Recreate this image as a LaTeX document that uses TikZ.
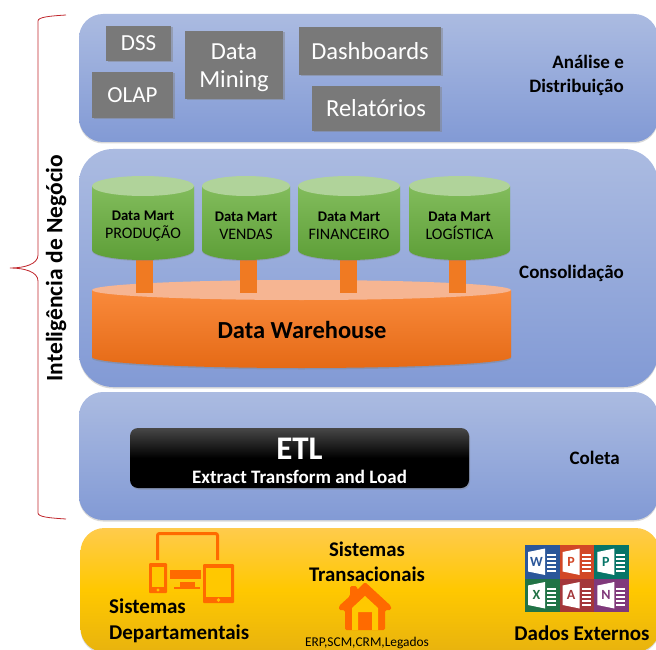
\documentclass[tikz,border=0pt]{standalone}
\usepackage{fontspec}
\setmainfont{Carlito}
\usepackage{tikz}
\usetikzlibrary{shadows, positioning}
\definecolor{bandtop}{HTML}{ABBBE1}
\definecolor{bandbot}{HTML}{829AD5}
\definecolor{boxgray}{HTML}{797979}
\definecolor{martlight}{HTML}{B0D39A}
\definecolor{marttop}{HTML}{82BC5C}
\definecolor{martbot}{HTML}{5E9F38}
\definecolor{dwlight}{HTML}{F6B592}
\definecolor{dwtop}{HTML}{F98A3C}
\definecolor{dwbot}{HTML}{E56A16}
\definecolor{stubcol}{HTML}{F07A22}
\definecolor{yelltop}{HTML}{FFCB4C}
\definecolor{yellmid}{HTML}{FFC800}
\definecolor{yellbot}{HTML}{E8B30E}
\definecolor{iconorange}{HTML}{FF6A00}
\definecolor{bracered}{HTML}{C0272D}
\begin{document}
\begin{tikzpicture}[
            x=1pt, y=-1pt,
            band/.style={rounded corners=24pt, minimum width=579pt, inner sep=0pt, top color=bandtop, bottom color=bandbot,
                    drop shadow={opacity=0.3, shadow xshift=0pt, shadow yshift=-1.5pt}},
            infobox/.style={fill=boxgray, inner sep=0pt, drop shadow={opacity=0.45, shadow xshift=1.5pt, shadow yshift=-1.5pt}},
            boxtext/.style={text=white, inner sep=0pt, align=center, font=\fontsize{24.5}{28}\selectfont},
            tag/.style={font=\fontsize{19}{24}\selectfont\bfseries, align=right, inner sep=0pt, anchor=east},
            source/.style={font=\fontsize{21}{26}\selectfont\bfseries, align=left, inner sep=0pt},
            mart/.style={font=\fontsize{16}{18}\selectfont, align=center, inner sep=0pt},
            stub/.style={line width=17pt, draw=stubcol},
            icon/.style={fill=iconorange, draw=none}
        ]
        \clip (0,0) rectangle (656,650);

        % Bands
        \node[band, minimum height=128pt] (analise) at (368.5,78) {};
        \node[band, minimum height=238pt, rounded corners=34pt] (consolidacao) at (368.5,268) {};
        \node[band, minimum height=128pt] (coleta) at (368.5,456) {};
        \node[band, minimum height=124pt, top color=yelltop, bottom color=yellbot, middle color=yellmid] (fontes) at (370,590) {};

        % Brace
        \coordinate (bracetop) at (66,15);
        \coordinate (bracetip) at (10,268);
        \coordinate (bracebot) at (66,519);
        \draw[bracered, line width=0.8pt] (bracetop) .. controls (50,16) and (38,17) .. (38,21) -- (38,255)
            .. controls (38,264) and (25,268) .. (bracetip)
            .. controls (25,268) and (38,272) .. (38,281) -- (38,513)
            .. controls (38,517) and (50,518) .. (bracebot);
        \node[rotate=90, font=\fontsize{23.5}{24}\selectfont\bfseries, inner sep=0pt] (negocio) at (56,268) {Inteligência de Negócio};

        % Analysis boxes
        \node[infobox, minimum width=65pt, minimum height=35pt] (dss) at (138.5,43.5) {};
        \node[boxtext, font=\fontsize{23}{28}\selectfont] (dsstext) at (dss) {DSS};
        \node[infobox, minimum width=81pt, minimum height=46pt] (olap) at (132.5,95) {};
        \node[boxtext, font=\fontsize{23}{28}\selectfont] (olaptext) at (olap) {OLAP};
        \node[infobox, minimum width=98pt, minimum height=68pt] (mining) at (234,65) {};
        \node[boxtext] (miningtext) at (234,68) {Data\\Mining};
        \node[infobox, minimum width=142pt, minimum height=48pt] (dashboards) at (370,51) {};
        \node[boxtext] (dashboardstext) at (dashboards) {Dashboards};
        \node[infobox, minimum width=128pt, minimum height=45pt] (relatorios) at (376,108.5) {};
        \node[boxtext] (relatoriostext) at (relatorios) {Relatórios};
        \node[tag] (analisetag) at (624,75) {Análise e\\Distribuição};

        % Data warehouse
        \path[top color=dwtop, bottom color=dwbot, drop shadow={opacity=0.4, shadow xshift=0pt, shadow yshift=-1.5pt}]
            (92,290) -- (92,357) arc[start angle=180, end angle=0, x radius=209.5, y radius=11] -- (511,290) -- cycle;
        \fill[dwlight] (301.5,290) ellipse[x radius=209.5, y radius=10];
        \node[font=\fontsize{24.5}{28}\selectfont\bfseries, inner sep=0pt] (dw) at (302,330) {Data Warehouse};

        % Data marts
        \foreach \i/\xl/\xr/\xs/\lbl in {1/92/194/144.5/PRODUÇÃO, 2/202/290/248/VENDAS, 3/298/400/348.5/FINANCEIRO, 4/409/510/457/LOGÍSTICA} {
                \pgfmathsetmacro{\xc}{(\xl+\xr)/2}
                \pgfmathsetmacro{\rx}{(\xr-\xl)/2}
                \coordinate (mb\i) at (\xs,255);
                \coordinate (dwt\i) at (\xs,293);
                \draw[stub] (mb\i) -- (dwt\i);
                \path[top color=marttop, bottom color=martbot, drop shadow={opacity=0.35, shadow xshift=0pt, shadow yshift=-1pt}]
                    (\xl,186) -- (\xl,250) arc[start angle=180, end angle=0, x radius=\rx, y radius=10] -- (\xr,186) -- cycle;
                \fill[martlight] (\xc,186) ellipse[x radius=\rx, y radius=10];
                \node[mart] (m\i) at (\xc,226) {\textbf{\fontsize{14.7}{18}\selectfont Data Mart}\\\lbl};
            }
        \node[tag] (consolidacaotag) at (624,273) {Consolidação};

        % ETL
        \node[rounded corners=8pt, minimum width=339pt, minimum height=60pt, inner sep=0pt, top color=black!72, bottom color=black, middle color=black,
            drop shadow={opacity=0.4, shadow xshift=1pt, shadow yshift=-1.5pt}] (etlbox) at (299.5,458) {};
        \node[text=white, font=\fontsize{33}{36}\selectfont\bfseries, inner sep=0pt] (etl) at (299.5,449) {ETL};
        \node[text=white, font=\fontsize{19}{22}\selectfont\bfseries, inner sep=0pt] (etlsub) at (299.5,477) {Extract Transform and Load};
        \node[tag] (coletatag) at (620,458) {Coleta};

        % Devices icon
        \draw[iconorange, line width=3pt, rounded corners=2pt] (157.5,560) -- (157.5,533.5) -- (217.5,533.5) -- (217.5,560);
        \fill[icon, rounded corners=1pt] (149,563) rectangle (167,593);
        \fill[yellmid] (152,567) rectangle (164,587);
        \fill[yellmid] (158,590) circle (1.6);
        \fill[icon, rounded corners=1pt] (203,564) rectangle (234,603);
        \fill[yellmid] (206,568) rectangle (231,597);
        \fill[yellmid] (218.5,600) circle (1.8);
        \fill[icon] (170,570) rectangle (201,579);
        \fill[icon] (180,582) rectangle (195,587);
        \fill[icon] (174,587) rectangle (200,589);

        % House icon
        \fill[icon, rounded corners=1.5pt] (365,582) -- (391,606) -- (391,610) -- (385,610) -- (385,630) -- (345,630) -- (345,610)
            -- (339,610) -- (339,606) -- (350,596) -- (350,586) -- (357,586) -- (357,590) -- cycle;
        \fill[yellmid] (352,608) -- (365,596) -- (378,608) -- (378,630) -- (372,630) -- (372,612) -- (358,612) -- (358,630) -- (352,630) -- cycle;

        % Office tiles
        \foreach \i/\xt/\yt/\tilecol/\letter in {1/525/545/2B579A/W, 2/559.7/545/D24726/P, 3/594.4/545/077568/P, 4/525/578.5/217346/X, 5/559.7/578.5/A4373A/A, 6/594.4/578.5/80397B/N} {
                \definecolor{tilecol}{HTML}{\tilecol}
                \fill[tilecol] (\xt,\yt) rectangle ++(34.8,33.6);
                \fill[white] (\xt+3,\yt+7) -- (\xt+20,\yt+3.5) -- (\xt+20,\yt+30) -- (\xt+3,\yt+26.5) -- cycle;
                \foreach \yl in {9,13,17,21,25} {
                        \fill[white] (\xt+22,\yt+\yl) rectangle ++(9,2);
                    }
                \node[text=tilecol, font=\fontsize{14}{14}\selectfont\bfseries, inner sep=0pt] (tile\i) at (\xt+11.5,\yt+16.5) {\letter};
            }

        % Source labels
        \node[source, anchor=north west] (departamentais) at (109,599) {Sistemas\\Departamentais};
        \node[source, align=center, font=\fontsize{20.8}{25}\selectfont\bfseries] (transacionais) at (367,562) {Sistemas\\Transacionais};
        \node[font=\fontsize{13.4}{14}\selectfont, inner sep=0pt] (erp) at (367,642.5) {ERP,SCM,CRM,Legados};
        \node[source] (externos) at (582,633) {Dados Externos};
    \end{tikzpicture}
\end{document}
